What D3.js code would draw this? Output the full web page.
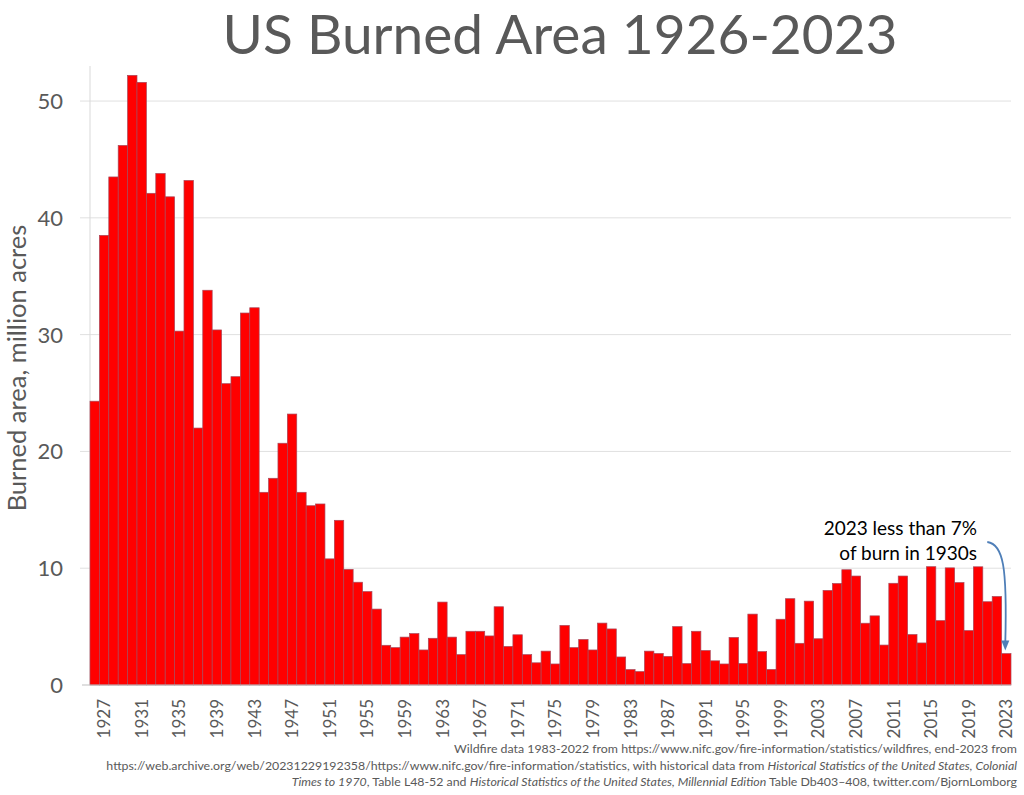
<!DOCTYPE html>
<html>
<head>
<meta charset="utf-8">
<script src="https://cdn.jsdelivr.net/npm/d3@7/dist/d3.min.js"></script>
<style>
  html, body { margin: 0; padding: 0; background: #fff; }
  svg { display: block; }
</style>
</head>
<body>
<svg id="chart" width="1024" height="795"></svg>
<script>
// ---- data ----
const years = d3.range(1926, 2024);
const burnedArea = [
  24.3, 38.5, 43.5, 46.2, 52.2, 51.6, 42.1, 43.8, 41.8, 30.3,   // 1926-1935
  43.2, 22.0, 33.8, 30.4, 25.8, 26.4, 31.85, 32.3, 16.5, 17.7,  // 1936-1945
  20.7, 23.2, 16.5, 15.35, 15.5, 10.8, 14.1, 9.9, 8.8, 8.0,     // 1946-1955
  6.5, 3.4, 3.2, 4.1, 4.4, 3.0, 4.0, 7.1, 4.1, 2.6,             // 1956-1965
  4.6, 4.6, 4.2, 6.7, 3.3, 4.3, 2.6, 1.9, 2.9, 1.8,             // 1966-1975
  5.1, 3.2, 3.9, 3.0, 5.3, 4.8, 2.4, 1.32, 1.15, 2.9,           // 1976-1985
  2.7, 2.45, 5.0, 1.83, 4.6, 2.95, 2.07, 1.8, 4.07, 1.84,       // 1986-1995
  6.07, 2.86, 1.33, 5.63, 7.39, 3.57, 7.18, 3.96, 8.1, 8.69,    // 1996-2005
  9.87, 9.33, 5.29, 5.92, 3.42, 8.71, 9.33, 4.32, 3.6, 10.13,   // 2006-2015
  5.51, 10.03, 8.77, 4.66, 10.12, 7.13, 7.58, 2.69              // 2016-2023
];
const yTicks = [0, 10, 20, 30, 40, 50];
const xTickYears = d3.range(1927, 2024, 4);
const titleText = "US Burned Area 1926-2023";
const yLabelText = "Burned area, million acres";
const noteLines = [
  [["Wildfire data 1983-2022 from https://www.nifc.gov/fire-information/statistics/wildfires, end-2023 from", false]],
  [["https://web.archive.org/web/20231229192358/https://www.nifc.gov/fire-information/statistics, with historical data from ", false],
   ["Historical Statistics of the United States, Colonial", true]],
  [["Times to 1970", true], [", Table L48-52 and ", false],
   ["Historical Statistics of the United States, Millennial Edition", true],
   [" Table Db403\u2013408, twitter.com/BjornLomborg", false]]
];
const annotationLines = ["2023 less than 7%", "of burn in 1930s"];

// ---- layout ----
const svg = d3.select("#chart");
const mLeft = 90, mRight = 1011, mTop = 66, mBottom = 685;
const font = "Lato, 'Open Sans', sans-serif";
const gray = "#595959";

const x = d3.scaleBand().domain(years).range([mLeft, mRight]).padding(0);
const y = d3.scaleLinear().domain([0, 53]).range([mBottom, mTop]);

// title
svg.append("text")
  .attr("x", 560).attr("y", 54)
  .attr("text-anchor", "middle")
  .attr("font-family", font).attr("font-size", 55)
  .attr("fill", gray)
  .text(titleText);

// gridlines
svg.append("g").selectAll("line")
  .data(yTicks.filter(d => d > 0))
  .join("line")
  .attr("x1", mLeft - 10).attr("x2", mRight)
  .attr("y1", d => y(d)).attr("y2", d => y(d))
  .attr("stroke", "#e0e0e0").attr("stroke-width", 1);

// vertical axis line
svg.append("line")
  .attr("x1", mLeft).attr("x2", mLeft)
  .attr("y1", mTop).attr("y2", mBottom)
  .attr("stroke", "#d9d9d9").attr("stroke-width", 1);

// bars
svg.append("g").selectAll("rect")
  .data(years.map((yr, i) => ({ yr, v: burnedArea[i] })))
  .join("rect")
  .attr("x", d => x(d.yr))
  .attr("width", x.bandwidth())
  .attr("y", d => y(d.v))
  .attr("height", d => y(0) - y(d.v))
  .attr("fill", "#ff0000")
  .attr("stroke", "#a8485a")
  .attr("stroke-width", 0.7);

// baseline
svg.append("line")
  .attr("x1", mLeft - 8).attr("x2", mRight)
  .attr("y1", y(0)).attr("y2", y(0))
  .attr("stroke", "#bfbfbf").attr("stroke-width", 1);

// y tick labels
svg.append("g").selectAll("text")
  .data(yTicks)
  .join("text")
  .attr("x", 63).attr("y", d => y(d))
  .attr("dy", "0.36em")
  .attr("text-anchor", "end")
  .attr("font-family", font).attr("font-size", 22)
  .attr("fill", gray)
  .text(d => d);

// y axis label
svg.append("text")
  .attr("transform", `translate(26, 368) rotate(-90)`)
  .attr("text-anchor", "middle")
  .attr("font-family", font).attr("font-size", 25.5)
  .attr("fill", gray)
  .text(yLabelText);

// x tick labels
svg.append("g").selectAll("text")
  .data(xTickYears)
  .join("text")
  .attr("transform", d => `translate(${x(d) + x.bandwidth() / 2}, ${mBottom + 14}) rotate(-90)`)
  .attr("dy", "0.36em")
  .attr("text-anchor", "end")
  .attr("font-family", font).attr("font-size", 17)
  .attr("fill", gray)
  .text(d => d);

// footnote
const note = svg.append("g");
noteLines.forEach((parts, i) => {
  const t = note.append("text")
    .attr("x", 1017).attr("y", 753 + i * 16.5)
    .attr("text-anchor", "end")
    .attr("font-family", font).attr("font-size", 12.35)
    .attr("fill", gray);
  parts.forEach(([s, it]) => {
    t.append("tspan").attr("font-style", it ? "italic" : "normal").text(s);
  });
});

// annotation
const ann = svg.append("g");
annotationLines.forEach((s, i) => {
  ann.append("text")
    .attr("x", 977).attr("y", 535 + i * 25)
    .attr("text-anchor", "end")
    .attr("font-family", font).attr("font-size", 19)
    .attr("fill", "#000")
    .text(s);
});
const ex = x(2023) + x.bandwidth() / 2 - 1;
const ey = y(burnedArea[burnedArea.length - 1]) - 3;
const sx = ex - 18, sy = 542;
const p = d3.path();
p.moveTo(sx, sy);
p.bezierCurveTo(sx + 16, sy + 2, ex + 2, sy + 25, ex, ey - 8);
ann.append("path").attr("d", p.toString())
  .attr("fill", "none").attr("stroke", "#4f7fb8").attr("stroke-width", 1.8);
ann.append("path")
  .attr("d", `M${ex - 4},${ey - 10} L${ex + 4},${ey - 10} L${ex},${ey} Z`)
  .attr("fill", "#4f7fb8");
</script>
</body>
</html>
